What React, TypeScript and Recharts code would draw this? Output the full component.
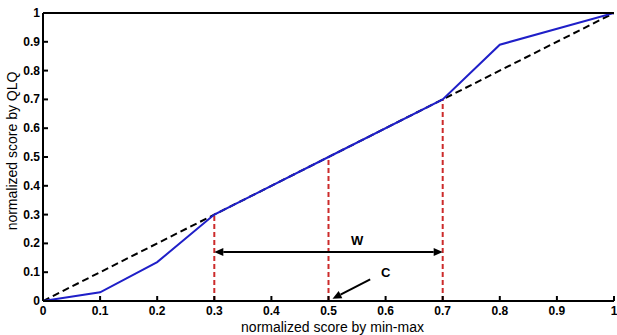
import React from 'react';
import { LineChart, Line, XAxis, YAxis, ReferenceLine, ReferenceDot } from 'recharts';

const xTicks = [0, 0.1, 0.2, 0.3, 0.4, 0.5, 0.6, 0.7, 0.8, 0.9, 1];
const yTicks = [0, 0.1, 0.2, 0.3, 0.4, 0.5, 0.6, 0.7, 0.8, 0.9, 1];
const minMaxScore = [0, 0.1, 0.2, 0.3, 0.5, 0.7, 0.8, 1];
const qlqScore = [0, 0.03, 0.135, 0.3, 0.5, 0.7, 0.89, 1];
const diagX = [0, 1];
const diagY = [0, 1];
const markers = [0.3, 0.5, 0.7];
const windowStart = 0.3;
const windowEnd = 0.7;
const windowLevel = 0.17;
const wLabel = { text: 'W', x: 0.55, y: 0.21 };
const cLabel = { text: 'C', x: 0.6, y: 0.1 };
const cArrowFrom = { x: 0.573, y: 0.075 };
const cArrowTo = { x: 0.507, y: 0.008 };

const curveData = minMaxScore.map((x, i) => ({ x, y: qlqScore[i] }));
const diagData = diagX.map((x, i) => ({ x, y: diagY[i] }));

const FONT = '"Liberation Sans", Arial, Helvetica, sans-serif';
const fmt = (v: number) => (v === 0 || v === 1 ? String(v) : v.toFixed(1));

const BottomTick = (p: any) => (
  <g>
    <line x1={p.x} y1={p.y} x2={p.x} y2={p.y - 5} stroke="#000" strokeWidth={2} />
    <text x={p.x} y={p.y + 14} textAnchor="middle" fontSize={12} fontWeight="bold" fontFamily={FONT} fill="#000">
      {fmt(p.payload.value)}
    </text>
  </g>
);
const LeftTick = (p: any) => (
  <g>
    <line x1={p.x} y1={p.y} x2={p.x + 5} y2={p.y} stroke="#000" strokeWidth={2} />
    <text x={p.x - 3} y={p.y + 4} textAnchor="end" fontSize={12} fontWeight="bold" fontFamily={FONT} fill="#000">
      {fmt(p.payload.value)}
    </text>
  </g>
);
const TopTick = (p: any) => (
  <line x1={p.x} y1={p.y} x2={p.x} y2={p.y + 5} stroke="#000" strokeWidth={2} />
);
const RightTick = (p: any) => (
  <line x1={p.x} y1={p.y} x2={p.x - 5} y2={p.y} stroke="#000" strokeWidth={2} />
);

const DoubleArrow = (p: any) => {
  const { x1, y1, x2, y2 } = p;
  const h = 9, w = 4;
  return (
    <g>
      <line x1={x1 + h} y1={y1} x2={x2 - h} y2={y2} stroke="#000" strokeWidth={2} />
      <polygon points={`${x1},${y1} ${x1 + h},${y1 - w} ${x1 + h},${y1 + w}`} fill="#000" />
      <polygon points={`${x2},${y2} ${x2 - h},${y2 - w} ${x2 - h},${y2 + w}`} fill="#000" />
    </g>
  );
};

const SingleArrow = (p: any) => {
  const { x1, y1, x2, y2 } = p;
  const dx = x2 - x1, dy = y2 - y1;
  const len = Math.sqrt(dx * dx + dy * dy);
  const ux = dx / len, uy = dy / len;
  const h = 9, w = 4;
  const bx = x2 - ux * h, by = y2 - uy * h;
  return (
    <g>
      <line x1={x1} y1={y1} x2={bx} y2={by} stroke="#000" strokeWidth={2} />
      <polygon
        points={`${x2},${y2} ${bx - uy * w},${by + ux * w} ${bx + uy * w},${by - ux * w}`}
        fill="#000"
      />
    </g>
  );
};

export default function App() {
  return (
    <div style={{ position: 'absolute', left: 0, top: 0, background: '#fff' }}>
      <LineChart width={617} height={335} margin={{ top: 0, right: 3, bottom: 0, left: 0 }}>
        <XAxis
          xAxisId="b"
          dataKey="x"
          type="number"
          domain={[0, 1]}
          ticks={xTicks}
          interval={0}
          height={34}
          tickSize={0}
          tickMargin={0}
          tickLine={false}
          tick={<BottomTick />}
          axisLine={{ stroke: '#000', strokeWidth: 2 }}
          allowDataOverflow
          label={{ value: 'normalized score by min-max', position: 'insideBottom', offset: 3, dx: 4, fontSize: 14, fill: '#000', fontFamily: FONT }}
        />
        <XAxis
          xAxisId="t"
          orientation="top"
          dataKey="x"
          type="number"
          domain={[0, 1]}
          ticks={xTicks}
          interval={0}
          height={13}
          tickSize={0}
          tickMargin={0}
          tickLine={false}
          tick={<TopTick />}
          axisLine={{ stroke: '#000', strokeWidth: 2 }}
        />
        <YAxis
          yAxisId="l"
          dataKey="y"
          type="number"
          domain={[0, 1]}
          ticks={yTicks}
          interval={0}
          width={43}
          tickSize={0}
          tickMargin={0}
          tickLine={false}
          tick={<LeftTick />}
          axisLine={{ stroke: '#000', strokeWidth: 2 }}
          label={{ value: 'normalized score by QLQ', angle: -90, position: 'center', dx: -9, dy: -6, fontSize: 14, fill: '#000', fontFamily: FONT }}
        />
        <YAxis
          yAxisId="r"
          orientation="right"
          dataKey="y"
          type="number"
          domain={[0, 1]}
          ticks={yTicks}
          interval={0}
          width={0}
          tickSize={0}
          tickMargin={0}
          tickLine={false}
          tick={<RightTick />}
          axisLine={{ stroke: '#000', strokeWidth: 2 }}
        />
        {markers.map((m) => (
          <ReferenceLine
            key={m}
            xAxisId="b"
            yAxisId="l"
            segment={[{ x: m, y: 0 }, { x: m, y: m }]}
            stroke="#cc2b2b"
            strokeWidth={2}
            strokeDasharray="5 3"
          />
        ))}
        <Line
          xAxisId="b"
          yAxisId="l"
          data={diagData}
          dataKey="y"
          type="linear"
          stroke="#000"
          strokeWidth={2}
          strokeDasharray="7 4"
          dot={false}
          isAnimationActive={false}
        />
        <Line
          xAxisId="b"
          yAxisId="l"
          data={curveData}
          dataKey="y"
          type="linear"
          stroke="#1f1fc8"
          strokeWidth={2}
          dot={false}
          isAnimationActive={false}
        />
        <ReferenceLine
          xAxisId="b"
          yAxisId="l"
          segment={[{ x: windowStart, y: windowLevel }, { x: windowEnd, y: windowLevel }]}
          shape={<DoubleArrow />}
        />
        <ReferenceLine
          xAxisId="b"
          yAxisId="l"
          segment={[cArrowFrom, cArrowTo]}
          shape={<SingleArrow />}
        />
        <ReferenceDot
          xAxisId="b"
          yAxisId="l"
          x={wLabel.x}
          y={wLabel.y}
          r={0}
          fill="none"
          stroke="none"
          label={{ value: wLabel.text, position: 'center', fontSize: 13, fontWeight: 'bold', fill: '#000', fontFamily: FONT }}
        />
        <ReferenceDot
          xAxisId="b"
          yAxisId="l"
          x={cLabel.x}
          y={cLabel.y}
          r={0}
          fill="none"
          stroke="none"
          label={{ value: cLabel.text, position: 'center', fontSize: 13, fontWeight: 'bold', fill: '#000', fontFamily: FONT }}
        />
      </LineChart>
    </div>
  );
}
